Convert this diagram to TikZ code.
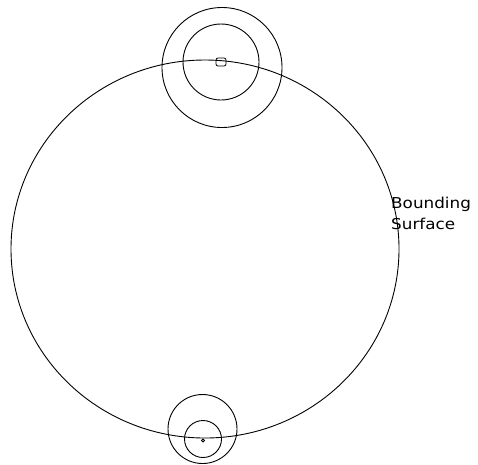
\documentclass[tikz,border=0pt]{standalone}
\usepackage{fontspec}
\newfontfamily\labelfont{DejaVu Sans}
\tikzset{
    outline/.style={line width=0.9pt, black},
    marker/.style={line width=0.8pt, black}
}
\begin{document}
\begin{tikzpicture}[x=1pt,y=-1pt]
    \useasboundingbox (0,0) rectangle (478,464);

    % Bounding surface
    \draw[outline] (205,249) ellipse [x radius=194, y radius=189];
    \node[anchor=north west, inner sep=0pt, align=left,
          font=\labelfont\fontsize{15}{21}\selectfont] (surfacelabel) at (391,197)
        {\scalebox{1.12}[1]{Bounding}\\\scalebox{1.12}[1]{Surface}};

    % Top pair of circles
    \draw[outline] (222,67.5) circle [radius=60];
    \draw[outline] (221,62) circle [radius=38];
    \draw[marker, rounded corners=2pt] (216,58) rectangle (226,66);

    % Bottom pair of circles
    \draw[outline] (202.5,429) circle [radius=34.5];
    \draw[outline] (203,439) circle [radius=18.5];
    \draw[marker] (203,440.5) circle [radius=1.5];
\end{tikzpicture}
\end{document}
